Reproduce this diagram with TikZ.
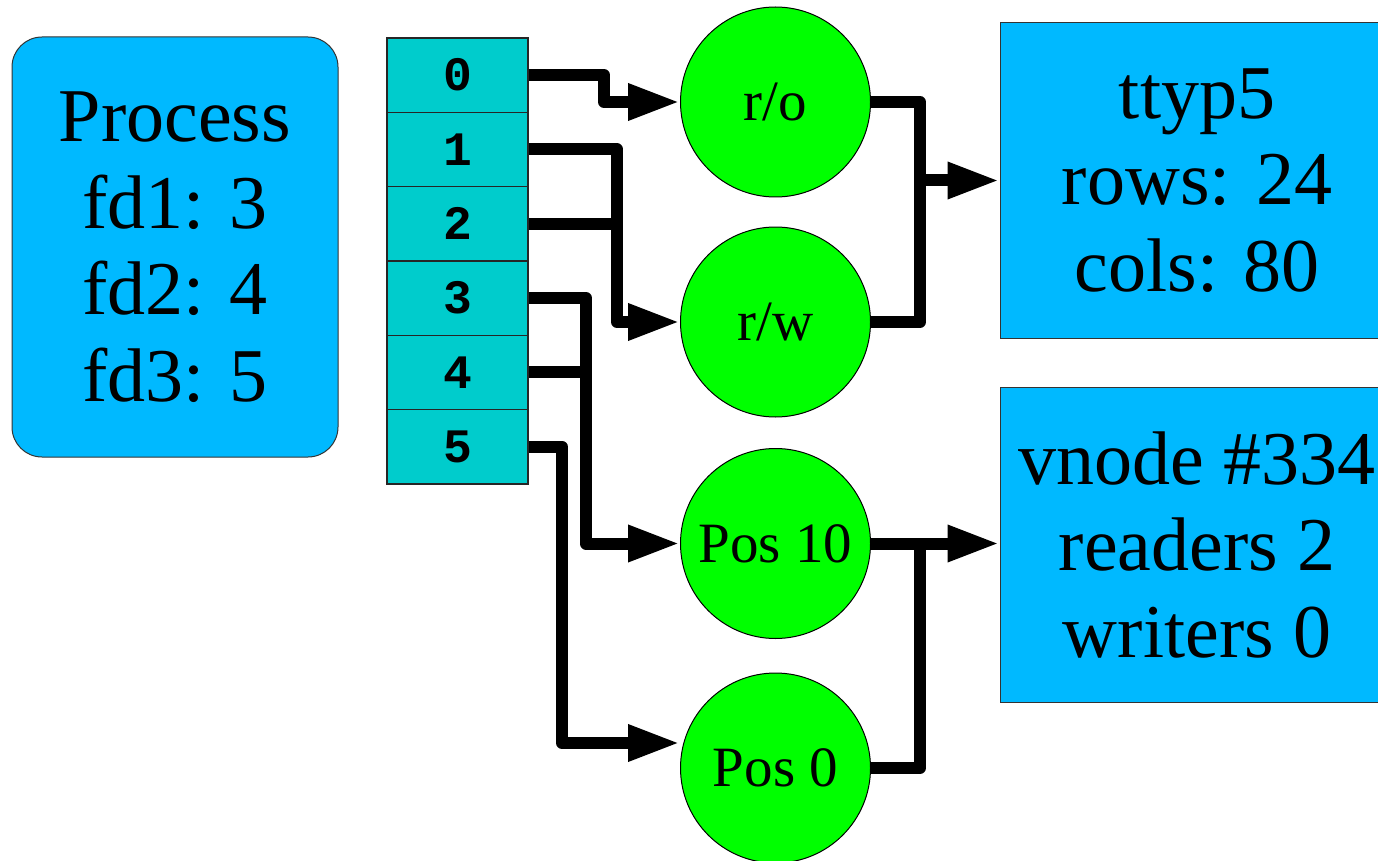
\documentclass[tikz,border=0pt]{standalone}
\usepackage{fontspec}
\setmainfont{Liberation Serif}
\newfontfamily\fdfont{Liberation Mono}
\usetikzlibrary{arrows.meta}
\definecolor{boxblue}{HTML}{00B9FF}
\definecolor{tablecyan}{HTML}{00CCCC}
\definecolor{circgreen}{HTML}{00FF00}
\begin{document}
\begin{tikzpicture}[x=1pt,y=-1pt,
  bigtext/.style={font=\fontsize{76}{86.5}\selectfont, align=center, text=black},
  infobox/.style={draw=black!80, line width=1pt, fill=boxblue, inner sep=0pt, bigtext},
  fdcell/.style={draw=black!85, line width=1.5pt, fill=tablecyan, minimum width=141pt, minimum height=74.33pt, inner sep=0pt, font=\fontsize{48}{48}\fdfont\bfseries},
  filenode/.style={circle, draw=black, line width=1pt, fill=circgreen, minimum size=190pt, inner sep=0pt, font=\fontsize{57}{60}\selectfont},
  wire/.style={line width=12pt, line join=round},
  conn/.style={wire, -{Triangle[length=52pt,width=34pt]}}
]
\clip (0,0) rectangle (1378,861);
\node[infobox, rounded corners=30pt, minimum width=326pt, minimum height=420pt] (proc) at (175,247) {Process\\fd1: 3\\fd2: 4\\fd3: 5};
\foreach \i in {0,...,5} \node[fdcell] (f\i) at (457.5,{38+74.33*(\i+0.5)}) {\i};
\node[filenode] (ro) at (775.5,102) {r/o};
\node[filenode] (rw) at (775.5,322) {r/w};
\node[filenode] (p10) at (775.5,543.5) {Pos 10};
\node[filenode] (p0) at (775.5,768) {Pos 0};
\node[infobox, minimum width=394pt, minimum height=315pt] (tty) at (1197,180.5) {ttyp5\\rows: 24\\cols: 80};
\node[infobox, minimum width=394pt, minimum height=315pt] (vn) at (1197,544.5) {vnode \#334\\readers 2\\writers 0};
\coordinate (bus0) at (604,0);
\coordinate (bus12) at (617,0);
\coordinate (bus34) at (586,0);
\coordinate (bus5) at (562,0);
\coordinate (busR) at (920,0);
\coordinate (a5) at (680,743);
\draw[conn] (f0.east) -| (bus0 |- ro.west) -- (ro.west);
\draw[conn] (f1.east) -| (bus12 |- rw.west) -- (rw.west);
\draw[wire] (f2.east) -- (f2.east -| bus12);
\draw[conn] (f3.east) -| (bus34 |- p10.west) -- (p10.west);
\draw[wire] (f4.east) -- (f4.east -| bus34);
\draw[conn] (f5.east) -| (bus5 |- a5) -- (a5);
\draw[wire] (ro.east) -| (busR |- rw.east) -- (rw.east);
\draw[conn] (busR |- tty.west) -- (tty.west);
\draw[conn] (p10.east) -- (p10.east -| vn.west);
\draw[wire] (p0.east) -| (busR |- p10.east);
\end{tikzpicture}
\end{document}
